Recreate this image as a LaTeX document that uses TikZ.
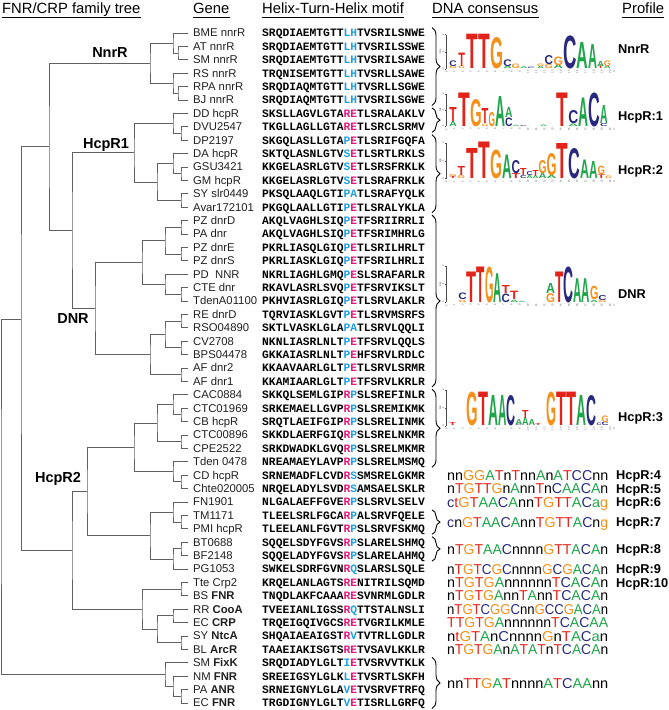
\documentclass[tikz,border=0pt]{standalone}
\usepackage{fontspec}
\setmainfont{Liberation Sans}
\setmonofont{Liberation Mono}
\usepackage{graphicx}
\usetikzlibrary{calc,decorations.pathreplacing}
\definecolor{hbl}{HTML}{1E9FE0}
\definecolor{hpk}{HTML}{E5177E}
\definecolor{dT}{HTML}{E2231A}
\definecolor{dG}{HTML}{F39019}
\definecolor{dA}{HTML}{1FA54A}
\definecolor{dC}{HTML}{28287F}
\newcommand\mhb[1]{\textcolor{hbl}{#1}}
\newcommand\mhp[1]{\textcolor{hpk}{#1}}
\def\hcol#1{\ifx#1R\mhp{R}\else\ifx#1E\mhp{E}\else\mhb{#1}\fi\fi}
\def\hpair#1#2{\hcol#1\hcol#2}
\newcommand\dnachar[1]{%
  \ifx#1A\textcolor{dA}{A}\else\ifx#1a\textcolor{dA}{a}\else
  \ifx#1T\textcolor{dT}{T}\else\ifx#1t\textcolor{dT}{t}\else
  \ifx#1G\textcolor{dG}{G}\else\ifx#1g\textcolor{dG}{g}\else
  \ifx#1C\textcolor{dC}{C}\else\ifx#1c\textcolor{dC}{c}\else
  #1\fi\fi\fi\fi\fi\fi\fi\fi}
\def\dnaloop#1{\ifx#1\relax\else\dnachar{#1}\expandafter\dnaloop\fi}
\newcommand\dnaseq[1]{\resizebox{161pt}{\height}{\dnaloop#1\relax}}
\newcount\lgn
\newcommand\lgl[6]{\global\advance\lgn by 1\relax
  \node[glyph,text=#2] (gl\the\lgn) at (#3,#4) {\resizebox{#5pt}{#6pt}{\raisebox{0pt}[\height][0pt]{#1}}};}
\newcommand\tjoin[4]{%
  \path let \p1=($(#3)!.5!(#4)$) in coordinate (#1) at (#2pt,\y1);
  \draw[tree] (#3) -| (#1) |- (#4);}
\newcommand\lgaxis[3]{%
  \draw[axl] (446,#2) -- (446,#3);
  \draw[axl] (444.8,#2) -- (446,#2) (444.8,{(#2+#3)/2}) -- (446,{(#2+#3)/2}) (444.8,#3) -- (446,#3);
  \node[tick] (#1y2) at (443.3,#2) {2};
  \node[tick] (#1y1) at (443.3,{(#2+#3)/2}) {1};
  \node[tick] (#1y0) at (443.3,#3) {0};
  \node[tick] (#1b) at (440.3,{(#2+#3)/2}) {bits};
  \node[tick] (#1f) at (446.5,#3+3) {5'};
  \node[tick] (#1t) at (614,#3+3) {3'};
  \foreach \k in {1,...,20}{\node[tick] (#1x\k) at ({446+8.2*\k},#3+3) {\k};}}
\newcommand\rowy[2]{\pgfmathsetmacro#1{33+13.4*#2}}
\newcommand\consrow[4]{%
  \rowy\cy{#2}
  \node[cons] (cs#1) at (447,\cy+5.1) {\dnaseq{#3}};
  \node[prof] (pf#1) at (616,\cy+4.6) {#4};}
\newcommand\consonly[3]{%
  \rowy\cy{#2}
  \node[cons] (cs#1) at (447,\cy+5.1) {\dnaseq{#3}};}
\newcommand\bracerows[2]{%
  \rowy\bya{#1}\rowy\byb{#2}
  \coordinate (bt#1) at (432,\bya-5.5);
  \coordinate (bb#1) at (432,\byb+5.5);
  \draw[brc] (bt#1) -- (bb#1);}
\begin{document}
\begin{tikzpicture}[x=1pt,y=-1pt,
  hdr/.style={anchor=base west,inner sep=0pt,font=\fontsize{14.8}{14.8}\selectfont},
  gene/.style={anchor=base west,inner sep=0pt,text=black!88,font=\fontsize{11.3}{11.3}\selectfont},
  seq/.style={anchor=base west,inner sep=0pt,font=\ttfamily\bfseries\fontsize{11.3}{11.3}\selectfont},
  cons/.style={anchor=base west,inner sep=0pt,font=\fontsize{14.3}{14.3}\selectfont},
  prof/.style={anchor=base west,inner sep=0pt,font=\bfseries\fontsize{12.8}{12.8}\selectfont},
  clade/.style={inner sep=0pt,font=\bfseries\fontsize{14.5}{14.5}\selectfont},
  tree/.style={draw=black!62,line width=0.9pt},
  brc/.style={decorate,decoration={brace,amplitude=8pt},line width=0.9pt},
  glyph/.style={inner sep=0pt,outer sep=0pt,anchor=south west,font=\bfseries},
  axl/.style={draw=black!70,line width=0.3pt},
  tick/.style={inner sep=0pt,rotate=90,text=black!70,font=\fontsize{2.6}{2.6}\selectfont}]
\useasboundingbox (0,0) rectangle (669,710);

% headers
\node[hdr] (h1) at (2,13) {FNR/CRP family tree};
\node[hdr] (h2) at (193,13) {Gene};
\node[hdr] (h3) at (262,13) {Helix-Turn-Helix motif};
\node[hdr] (h4) at (432,13) {DNA consensus};
\node[hdr] (h5) at (622,13) {Profile};
\foreach \h in {h1,h2,h3,h4,h5}
  \draw[line width=0.7pt] ($(\h.base west)+(0,4)$) -- ($(\h.base east)+(0,4)$);

% rows
\foreach \i/\gn/\sa/\sm/\sb in {
0/{BME nnrR}/SRQDIAEMTGTT/LH/TVSRILSNWE,
1/{AT nnrR}/SRQDIAEMTGTT/LH/TVSRILSSWE,
2/{SM nnrR}/SRQDIAEMTGTT/LH/TVSRILSAWE,
3/{RS nnrR}/TRQNISEMTGTT/LH/TVSRLLSAWE,
4/{RPA nnrR}/SRQDIAQMTGTT/LH/TVSRLLSGWE,
5/{BJ nnrR}/SRQDIAQMTGTT/LH/TVSRILSGWE,
6/{DD hcpR}/SKSLLAGVLGTA/RE/TLSRALAKLV,
7/{DVU2547}/TKGLLAGLLGTA/RE/TLSRCLSRMV,
8/{DP2197}/SKGQLASLLGTA/PE/TLSRIFGQFA,
9/{DA hcpR}/SKTQLASNLGTV/SE/TLSRTLRKLS,
10/{GSU3421}/KKGELASRLGTV/SE/TLSRSFRKLK,
11/{GM hcpR}/KKGELASRLGTV/SE/TLSRAFRKLK,
12/{SY slr0449}/PKSQLAAQLGTI/PA/TLSRAFYQLK,
13/{Avar172101}/PKGQLAALLGTI/PE/TLSRALYKLA,
14/{PZ dnrD}/AKQLVAGHLSIQ/PE/TFSRIIRRLI,
15/{PA dnr}/AKQLVAGHLSIQ/PE/TFSRIMHRLG,
16/{PZ dnrE}/PKRLIASQLGIQ/PE/TLSRILHRLT,
17/{PZ dnrS}/PKRLIASKLGIQ/PE/TFSRILHRLI,
18/{PD\hspace{0.55em}NNR}/NKRLIAGHLGMQ/PE/SLSRAFARLR,
19/{CTE dnr}/RKAVLASRLSVQ/PE/TFSRVIKSLT,
20/{TdenA01100}/PKHVIASRLGIQ/PE/TLSRVLAKLR,
21/{RE dnrD}/TQRVIASKLGVT/PE/TLSRVMSRFS,
22/{RSO04890}/SKTLVASKLGLA/PA/TLSRVLQQLI,
23/{CV2708}/NKNLIASRLNLT/PE/TFSRVLQQLS,
24/{BPS04478}/GKKAIASRLNLT/PE/HFSRVLRDLC,
25/{AF dnr2}/KKAAVAARLGLT/PE/TLSRVLSRMR,
26/{AF dnr1}/KKAMIAARLGLT/PE/TFSRVLKRLR,
27/{CAC0884}/SKKQLSEMLGIP/RP/SLSREFINLR,
28/{CTC01969}/SRKEMAELLGVP/RP/SLSREMIKMK,
29/{CB hcpR}/SRQTLAEIFGIP/RP/SLSRELINMK,
30/{CTC00896}/SKKDLAERFGIQ/RP/SLSRELNKMR,
31/{CPE2522}/SRKDWADKLGVQ/RP/SLSRELMKMR,
32/{Tden 0478}/NREAMAEYLAVP/RP/SLSRELMSMQ,
33/{CD hcpR}/SRNEMADFLCVD/RS/SMSRELGKMR,
34/{Chte020005}/NRQELADYLSVD/RS/AMSAELSKLR,
35/{FN1901}/NLGALAEFFGVE/RP/SLSRVLSELV,
36/{TM1171}/TLEELSRLFGCA/RP/ALSRVFQELE,
37/{PMI hcpR}/TLEELANLFGVT/RP/SLSRVFSKMQ,
38/{BT0688}/SQQELSDYFGVS/RP/SLARELSHMQ,
39/{BF2148}/SQQELADYFGVS/RP/SLARELAHMQ,
40/{PG1053}/SWKELSDRFGVN/RQ/SLARSLSQLE,
41/{Tte Crp2}/KRQELANLAGTS/RE/NITRILSQMD,
42/{BS \textbf{FNR}}/TNQDLAKFCAAA/RE/SVNRMLGDLR,
43/{RR \textbf{CooA}}/TVEEIANLIGSS/RQ/TTSTALNSLI,
44/{EC \textbf{CRP}}/TRQEIGQIVGCS/RE/TVGRILKMLE,
45/{SY \textbf{NtcA}}/SHQAIAEAIGST/RV/TVTRLLGDLR,
46/{BL \textbf{ArcR}}/TAAEIAKISGTS/RE/TVSAVLKKLR,
47/{SM \textbf{FixK}}/SRQDIADYLGLT/IE/TVSRVVTKLK,
48/{NM \textbf{FNR}}/SREEIGSYLGLK/LE/TVSRTLSKFH,
49/{PA \textbf{ANR}}/SRNEIGNYLGLA/VE/TVSRVFTRFQ,
50/{EC \textbf{FNR}}/TRGDIGNYLGLT/VE/TISRLLGRFQ}{
  \rowy\yy{\i}
  \node[gene] (g\i) at (193,\yy+3.9) {\gn};
  \node[seq] (s\i) at (262,\yy+3.9) {\sa\expandafter\hpair\sm\sb};
  \coordinate (L\i) at (188,\yy);
}

% tree
\tjoin{a1}{178}{L1}{L2}
\tjoin{a2}{173}{L0}{a1}
\tjoin{a3}{178}{L4}{L5}
\tjoin{a4}{173}{L3}{a3}
\tjoin{nnr}{150}{a2}{a4}
\tjoin{b1}{181}{L7}{L8}
\tjoin{b2}{173}{L6}{b1}
\tjoin{b3}{181}{L10}{L11}
\tjoin{b4}{173}{L9}{b3}
\tjoin{b5}{181}{L12}{L13}
\tjoin{b6}{157}{b4}{b5}
\tjoin{hcpa}{134}{b2}{b6}
\tjoin{c1}{181}{L14}{L15}
\tjoin{c2}{181}{L16}{L17}
\tjoin{c3}{165}{c1}{c2}
\tjoin{c4}{181}{L19}{L20}
\tjoin{c5}{165}{L18}{c4}
\tjoin{c6}{142}{c3}{c5}
\tjoin{c7}{181}{L21}{L22}
\tjoin{c8}{181}{L23}{L24}
\tjoin{c9}{165}{c7}{c8}
\tjoin{c10}{181}{L25}{L26}
\tjoin{c11}{150}{c9}{c10}
\tjoin{dnr}{95}{c6}{c11}
\tjoin{hd}{72}{hcpa}{dnr}
\tjoin{topa}{49}{nnr}{hd}
\tjoin{d1}{181}{L28}{L29}
\tjoin{d2}{173}{L27}{d1}
\tjoin{d3}{181}{L30}{L31}
\tjoin{d4}{157}{d2}{d3}
\tjoin{d5}{181}{L33}{L34}
\tjoin{d6}{173}{L32}{d5}
\tjoin{d7}{134}{d4}{d6}
\tjoin{d8}{181}{L36}{L37}
\tjoin{d9}{173}{L35}{d8}
\tjoin{d10}{181}{L38}{L39}
\tjoin{d11}{173}{d10}{L40}
\tjoin{d12}{150}{d9}{d11}
\tjoin{d13}{87}{d7}{d12}
\tjoin{e1}{181}{L41}{L42}
\tjoin{e2}{173}{L43}{L44}
\tjoin{e3}{181}{L45}{L46}
\tjoin{e4}{157}{e2}{e3}
\tjoin{e5}{142}{e1}{e4}
\tjoin{hcpb}{72}{d13}{e5}
\coordinate (topb) at (21,319);
\draw[tree] (topa) -| (topb) |- (hcpb);
\tjoin{f1}{181}{L49}{L50}
\tjoin{f2}{173}{L48}{f1}
\tjoin{f3}{165}{L47}{f2}
\tjoin{root}{1}{topb}{f3}

\node[clade,anchor=base] (lnnr) at ($(nnr)+(-40,-6)$) {NnrR};
\node[clade,anchor=base] (lhcpa) at ($(hcpa)+(-28,-4)$) {HcpR1};
\node[clade,anchor=base] (ldnr) at ($(dnr)+(-22,15)$) {DNR};
\node[clade,anchor=base] (lhcpb) at ($(hcpb |- d13)+(-14,-9)$) {HcpR2};

% braces
\bracerows{0}{5}
\bracerows{6}{7}
\bracerows{8}{13}
\bracerows{14}{26}
\bracerows{27}{32}
\bracerows{36}{37}
\bracerows{38}{39}
\bracerows{47}{50}

% logos: NnrR
\begin{scope}[yshift=-4.5pt]
\lgaxis{ax1}{30}{64.3}
\lgl{G}{dG}{449.3}{64.3}{7.4}{2.6}
\lgl{C}{dC}{449.3}{61.7}{7.4}{5.7}
\lgl{G}{dG}{458.3}{64.3}{6.7}{2.6}
\lgl{T}{dT}{458.3}{61.7}{6.7}{13.4}
\lgl{T}{dT}{466.7}{64.3}{11.6}{34.3}
\lgl{T}{dT}{478.3}{64.3}{11.7}{34.3}
\lgl{G}{dG}{490}{64.3}{13}{31}
\lgl{A}{dA}{503.3}{64.3}{8.4}{2.6}
\lgl{C}{dC}{503.3}{61.7}{8.4}{6.7}
\lgl{G}{dG}{511.7}{64.3}{8.3}{4.5}
\lgl{A}{dA}{520}{64.3}{7.5}{1.8}
\lgl{C}{dC}{527.5}{64.3}{7}{1.5}
\lgl{A}{dA}{537}{64.3}{7}{2}
\lgl{G}{dG}{537}{62.3}{7}{2.5}
\lgl{G}{dG}{544.5}{64.3}{8.5}{4}
\lgl{C}{dC}{544.5}{60.3}{8.5}{9}
\lgl{A}{dA}{553.5}{64.3}{9.5}{3.8}
\lgl{G}{dG}{553.5}{60.5}{9.5}{8.5}
\lgl{C}{dC}{563.3}{64.3}{13.4}{32.6}
\lgl{A}{dA}{576.7}{64.3}{11.6}{26}
\lgl{A}{dA}{588.3}{64.3}{9}{24}
\lgl{T}{dT}{597.3}{64.3}{6.5}{2.6}
\lgl{A}{dA}{597.3}{61.7}{6.5}{5}
\lgl{A}{dA}{603.8}{64.3}{7}{2.6}
\lgl{G}{dG}{603.8}{61.7}{7}{5.7}
\node[prof] (pl1) at (618,48.8) {NnrR};
\end{scope}

% HcpR:1
\begin{scope}[yshift=-5.5pt]
\lgaxis{ax2}{88.3}{120.5}
\lgl{A}{dA}{449.3}{120.5}{7.4}{5}
\lgl{T}{dT}{449.3}{115.5}{7.4}{14}
\lgl{T}{dT}{458.3}{120.5}{11.7}{33.5}
\lgl{G}{dG}{470}{120.5}{11.7}{27}
\lgl{G}{dG}{481.7}{120.5}{6.8}{2.5}
\lgl{T}{dT}{481.7}{118}{6.8}{15}
\lgl{G}{dG}{488.5}{120.5}{6.5}{14}
\lgl{A}{dA}{495}{120.5}{10}{30}
\lgl{C}{dC}{505}{120.5}{7.5}{8.5}
\lgl{A}{dA}{505}{112}{7.5}{10}
\lgl{A}{dA}{512.5}{120.5}{7}{1.2}
\lgl{C}{dC}{520}{120.5}{7}{1}
\lgl{A}{dA}{540}{120.5}{7}{1.5}
\lgl{T}{dT}{556.7}{120.5}{11.6}{33.5}
\lgl{A}{dA}{568.3}{120.5}{10}{2.5}
\lgl{C}{dC}{568.3}{118}{10}{13}
\lgl{A}{dA}{578.3}{120.5}{10}{28.5}
\lgl{C}{dC}{588.3}{120.5}{11.7}{33.5}
\lgl{C}{dC}{600}{120.5}{7.5}{3}
\lgl{A}{dA}{600}{117.5}{7.5}{18}
\node[prof] (pl2) at (618,114.8) {HcpR:1};
\end{scope}

% HcpR:2
\begin{scope}[yshift=-6.5pt]
\lgaxis{ax3}{136.5}{172}
\lgl{T}{dT}{449.3}{172}{7.3}{2}
\lgl{G}{dG}{449.3}{170}{7.3}{2}
\lgl{G}{dG}{457.5}{172}{7.5}{3}
\lgl{T}{dT}{457.5}{169}{7.5}{9}
\lgl{T}{dT}{466.7}{172}{11.6}{30}
\lgl{T}{dT}{478.3}{172}{11.7}{36.5}
\lgl{G}{dG}{490}{172}{12}{28.5}
\lgl{A}{dA}{502}{172}{9.5}{23.5}
\lgl{T}{dT}{511.5}{172}{8.5}{5}
\lgl{C}{dC}{511.5}{167}{8.5}{13}
\lgl{C}{dC}{520}{172}{6.5}{3}
\lgl{T}{dT}{520}{169}{6.5}{7}
\lgl{A}{dA}{526.5}{172}{6}{3}
\lgl{C}{dC}{526.5}{169}{6}{4}
\lgl{A}{dA}{532.5}{172}{6}{2.5}
\lgl{T}{dT}{532.5}{169.5}{6}{6}
\lgl{A}{dA}{538.5}{172}{8}{5}
\lgl{G}{dG}{538.5}{167}{8}{13}
\lgl{A}{dA}{546.5}{172}{10}{3}
\lgl{G}{dG}{546.5}{169}{10}{22}
\lgl{T}{dT}{556.7}{172}{11.6}{35}
\lgl{C}{dC}{568.3}{172}{11.7}{30}
\lgl{A}{dA}{580}{172}{9}{18.5}
\lgl{A}{dA}{589}{172}{8.5}{17}
\lgl{T}{dT}{597.5}{172}{7.5}{3.7}
\lgl{G}{dG}{597.5}{168.3}{7.5}{8.3}
\lgl{G}{dG}{605}{172}{7}{2.5}
\node[prof] (pl3) at (618,167.8) {HcpR:2};
\end{scope}

% DNR
\begin{scope}[yshift=-6.5pt]
\lgaxis{ax4}{259.5}{295.5}
\lgl{G}{dG}{458.3}{295.5}{8.4}{2.2}
\lgl{C}{dC}{458.3}{293.3}{8.4}{6.6}
\lgl{T}{dT}{466.7}{295.5}{10}{30.5}
\lgl{T}{dT}{476.7}{295.5}{8.3}{35.5}
\lgl{G}{dG}{485}{295.5}{8.5}{35.5}
\lgl{A}{dA}{493.5}{295.5}{8.2}{28.8}
\lgl{C}{dC}{501.7}{295.5}{8.3}{8.5}
\lgl{T}{dT}{501.7}{287}{8.3}{8}
\lgl{A}{dA}{510}{295.5}{8.3}{2.2}
\lgl{T}{dT}{510}{293.3}{8.3}{8.3}
\lgl{A}{dA}{518.3}{295.5}{7}{1.2}
\lgl{G}{dG}{546}{295.5}{9}{8.8}
\lgl{A}{dA}{546}{286.7}{9}{10}
\lgl{T}{dT}{555}{295.5}{8.3}{30.5}
\lgl{C}{dC}{563.3}{295.5}{10}{35.5}
\lgl{A}{dA}{573.3}{295.5}{8.3}{23.8}
\lgl{A}{dA}{581.6}{295.5}{8.3}{23.8}
\lgl{A}{dA}{590}{295.5}{8.3}{2.2}
\lgl{G}{dG}{590}{293.3}{8.3}{13.3}
\lgl{G}{dG}{598.3}{295.5}{8.3}{2}
\lgl{C}{dC}{598.3}{293.5}{8.3}{5}
\node[prof] (pl4) at (618,291.8) {DNR};
\end{scope}

% HcpR:3
\begin{scope}[yshift=-4pt]
\lgaxis{ax5}{386}{421.7}
\lgl{T}{dT}{449}{421.7}{7}{3}
\lgl{G}{dG}{466.7}{421.7}{11.6}{33.4}
\lgl{T}{dT}{478.3}{421.7}{10}{33.4}
\lgl{A}{dA}{488.3}{421.7}{10}{30}
\lgl{A}{dA}{498.3}{421.7}{8.4}{30}
\lgl{C}{dC}{506.7}{421.7}{9}{30}
\lgl{C}{dC}{515.7}{421.7}{6.5}{1.7}
\lgl{A}{dA}{515.7}{420}{6.5}{5}
\lgl{A}{dA}{522.2}{421.7}{6.5}{7.7}
\lgl{T}{dT}{522.2}{414}{6.5}{8}
\lgl{A}{dA}{528.7}{421.7}{6.5}{6}
\lgl{T}{dT}{535.2}{421.7}{6}{2}
\lgl{G}{dG}{546.7}{421.7}{10}{33.4}
\lgl{T}{dT}{556.7}{421.7}{10}{33.4}
\lgl{T}{dT}{566.7}{421.7}{10}{33.4}
\lgl{A}{dA}{576.7}{421.7}{10}{30}
\lgl{C}{dC}{586.7}{421.7}{10}{30}
\lgl{C}{dC}{596.7}{421.7}{5}{2.5}
\lgl{C}{dC}{601.7}{421.7}{7}{3.4}
\lgl{G}{dG}{601.7}{418.3}{7}{6.6}
\node[prof] (pl5) at (618,417.8) {HcpR:3};
\end{scope}

% consensus rows
\consrow{4}{33}{nnGGATnTnnAnATCCnn}{HcpR:4}
\consrow{5}{34}{nTGTTGnAnnTnCAACAn}{HcpR:5}
\consrow{6}{35}{ctGTAACAnnTGTTACag}{HcpR:6}
\consrow{7}{36.5}{cnGTAACAnnTGTTACng}{HcpR:7}
\consrow{8}{38.5}{nTGTAACnnnnGTTACAn}{HcpR:8}
\consrow{9}{40}{nTGTCGCnnnnGCGACAn}{HcpR:9}
\consrow{10}{41}{nTGTGAnnnnnnTCACAn}{HcpR:10}
\consonly{11}{42}{nTGTGAnnTAnnTCACAn}
\consonly{12}{43}{nTGTCGGCnnGCCGACAn}
\consonly{13}{44}{TTGTGAnnnnnnTCACAA}
\consonly{14}{45}{ntGTAnCnnnnGnTACan}
\consonly{15}{46}{nTGTGAnATATnTCACAn}
\consonly{16}{48.5}{nnTTGATnnnnATCAAnn}
\end{tikzpicture}
\end{document}
